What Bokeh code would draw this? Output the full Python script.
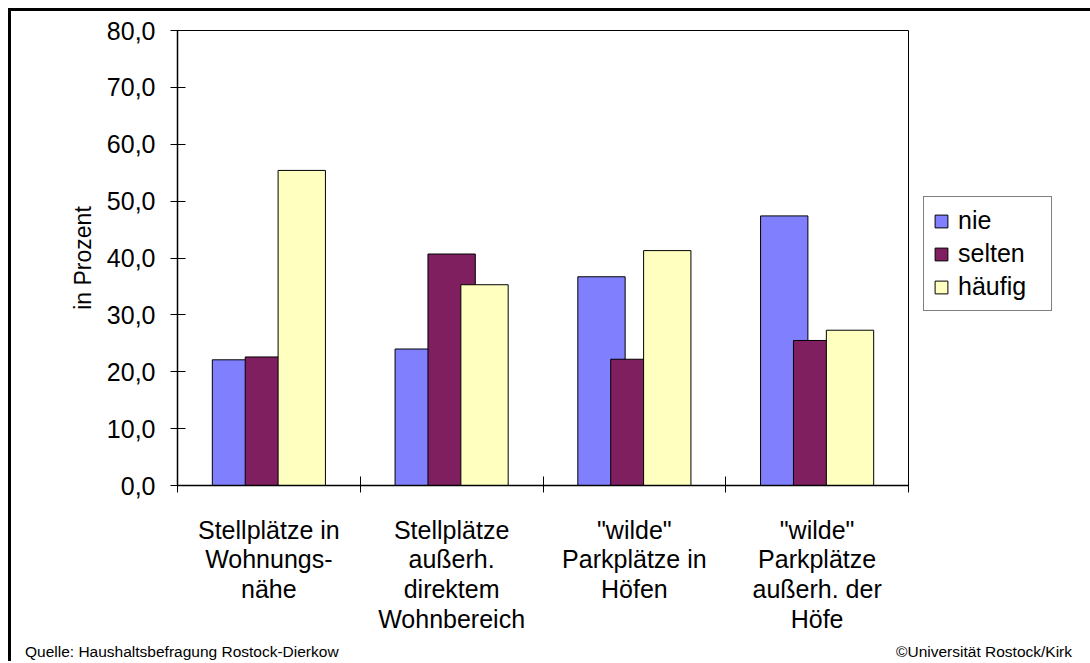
from bokeh.plotting import figure
from bokeh.models import Range1d, FixedTicker, Legend, LegendItem, Div
from bokeh.layouts import column
from bokeh.embed import file_html
from bokeh.resources import INLINE

categories = ["Stellplätze in\nWohnungs-\nnähe",
              "Stellplätze\naußerh.\ndirektem\nWohnbereich",
              "\"wilde\"\nParkplätze in\nHöfen",
              "\"wilde\"\nParkplätze\naußerh. der\nHöfe"]
series_names = ["nie", "selten", "häufig"]
nie = [22.1, 24.0, 36.7, 47.4]
selten = [22.6, 40.7, 22.2, 25.5]
haeufig = [55.4, 35.3, 41.3, 27.3]
y_ticks = [0, 10, 20, 30, 40, 50, 60, 70, 80]
y_tick_labels = ["0,0", "10,0", "20,0", "30,0", "40,0", "50,0", "60,0", "70,0", "80,0"]
source_text = "Quelle: Haushaltsbefragung Rostock-Dierkow"
copyright_text = "©Universität Rostock/Kirk"

colors = ["#8080FF", "#7F1F5F", "#FFFFC0"]
FONT = "Liberation Sans"
W = 1075

p = figure(frame_width=731, frame_height=455, output_backend="svg", toolbar_location=None,
           x_range=Range1d(0, 4), y_range=Range1d(0, 80),
           min_border_left=166, min_border_right=178, min_border_top=19, min_border_bottom=159)
p.grid.visible = False
p.outline_line_color = "black"
p.outline_line_width = 1
p.background_fill_color = "white"
p.border_fill_color = "white"

centers = [i + 0.5 for i in range(len(categories))]
offsets = [-0.18, 0.0, 0.18]
bar_w = 0.259
renderers = []
for vals, off, col in zip([nie, selten, haeufig], offsets, colors):
    r = p.vbar(x=[c + off for c in centers], top=vals, width=bar_w, bottom=0,
               fill_color=col, line_color="black", line_width=1)
    renderers.append(r)

# x axis
xa = p.xaxis[0]
xa.ticker = FixedTicker(ticks=centers, minor_ticks=[0, 1, 2, 3, 4])
xa.major_label_overrides = {c: lab for c, lab in zip(centers, categories)}
xa.major_tick_in = 0
xa.major_tick_out = 7
xa.major_tick_line_color = None
xa.minor_tick_in = 9
xa.minor_tick_out = 7
xa.minor_tick_line_color = "black"
xa.minor_tick_line_width = 1
xa.axis_line_color = "black"
xa.axis_line_width = 1.5
xa.major_label_text_font = FONT
xa.major_label_text_font_size = "25px"
xa.major_label_text_line_height = 1.07
xa.major_label_text_color = "black"
xa.major_label_standoff = 23
xa.major_label_text_align = "center"

# y axis
ya = p.yaxis[0]
ya.ticker = FixedTicker(ticks=y_ticks, minor_ticks=[])
ya.major_label_overrides = {t: lab for t, lab in zip(y_ticks, y_tick_labels)}
ya.major_tick_in = 8
ya.major_tick_out = 7
ya.major_tick_line_color = "black"
ya.axis_line_color = "black"
ya.axis_line_width = 1.5
ya.major_label_text_font = FONT
ya.major_label_text_font_size = "25px"
ya.major_label_text_color = "black"
ya.major_label_standoff = 15
ya.axis_label = "in Prozent"
ya.axis_label_text_font = FONT
ya.axis_label_text_font_size = "23px"
ya.axis_label_text_font_style = "normal"
ya.axis_label_text_color = "black"
ya.axis_label_standoff = 8

legend = Legend(items=[LegendItem(label=n, renderers=[r]) for n, r in zip(series_names, renderers)],
                location=(15, 174), orientation="vertical",
                glyph_width=16, glyph_height=16, label_standoff=9,
                label_text_font=FONT, label_text_font_size="25px",
                label_text_color="black", label_height=20, label_width=84,
                spacing=4, padding=9, margin=0,
                border_line_color="black", border_line_width=1,
                background_fill_color="white", background_fill_alpha=1)
p.add_layout(legend, "right")

footer_html = (
    "<div style=\"display:flex;justify-content:space-between;width:%dpx;"
    "font-family:'Liberation Sans',Arial,sans-serif;font-size:15.5px;line-height:15px;"
    "color:black;box-sizing:border-box;padding:0 14px 0 14px;white-space:nowrap\">"
    "<span>%s</span><span>%s</span></div>" % (W, source_text, copyright_text)
)
footer = Div(text=footer_html, width=W, height=17, margin=0)

layout = column(p, footer, spacing=0)
layout.styles = {"margin-left": "8px", "margin-top": "8px",
                 "border-top": "3px solid black", "border-left": "3px solid black"}

open("out.html", "w").write(file_html(layout, INLINE))
